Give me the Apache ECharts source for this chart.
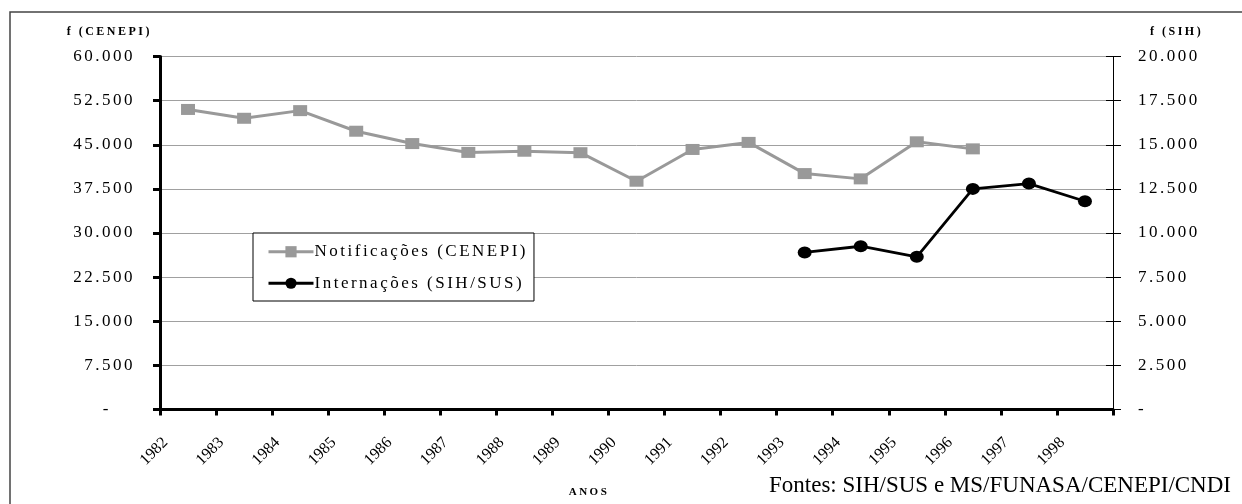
<!DOCTYPE html>
<html>
<head>
<meta charset="utf-8">
<script src="https://cdn.jsdelivr.net/npm/echarts@6/dist/echarts.min.js"></script>
<style>
html,body{margin:0;padding:0;background:#fff;}
#c{width:1242px;height:504px;}
</style>
</head>
<body>
<div id="c"></div>
<script>
// ---- data ----
const years = ['1982','1983','1984','1985','1986','1987','1988','1989','1990','1991','1992','1993','1994','1995','1996','1997','1998'];
const notificacoes = [51000, 49500, 50800, 47300, 45200, 43700, 43900, 43650, 38800, 44200, 45400, 40100, 39200, 45500, 44300, null, null];
const internacoes = [null, null, null, null, null, null, null, null, null, null, null, 8900, 9250, 8650, 12500, 12800, 11800];
const leftTicks = [0, 7500, 15000, 22500, 30000, 37500, 45000, 52500, 60000];
const rightTicks = [0, 2500, 5000, 7500, 10000, 12500, 15000, 17500, 20000];
const nameNot = 'Notificações (CENEPI)';
const nameInt = 'Internações (SIH/SUS)';
const source = 'Fontes: SIH/SUS e MS/FUNASA/CENEPI/CNDI';

// letter-spaced serif text (as in the original figure)
const SPACED = 'Liberation Serif, Tinos';
const PLAIN = 'Liberation Serif';
(function(){
  const P = CanvasRenderingContext2D.prototype;
  if (!('letterSpacing' in P)) return;
  const setSp = function(ctx){ ctx.letterSpacing = /Tinos/.test(ctx.font) ? '2.5px' : '0px'; };
  const ft = P.fillText, st = P.strokeText, mt = P.measureText;
  P.fillText = function(){ setSp(this); return ft.apply(this, arguments); };
  P.strokeText = function(){ setSp(this); return st.apply(this, arguments); };
  P.measureText = function(){ setSp(this); return mt.apply(this, arguments); };
})();

function fmt3(v){
  if (v === 0) return '-';
  const s = String(v);
  return s.slice(0, s.length-3) + '.' + s.slice(s.length-3);
}

const chart = echarts.init(document.getElementById('c'), null, {renderer:'canvas'});
chart.setOption({
  animation:false,
  backgroundColor:'#fff',
  grid:{left:160, right:129, top:56.5, bottom:92.5},
  legend:{
    left:253, top:233, orient:'vertical',
    backgroundColor:'#fff', borderColor:'#000', borderWidth:1,
    padding:[9,6,8,14], itemGap:12, itemWidth:45, itemHeight:14,
    lineStyle:{width:3},
    textStyle:{fontFamily:SPACED, fontSize:17, color:'#000', padding:[0,0,0,-4]},
    data:[nameNot, nameInt]
  },
  xAxis:{
    type:'category', data:years, boundaryGap:true,
    axisLine:{lineStyle:{color:'#000', width:3}},
    axisTick:{show:true, length:6, lineStyle:{color:'#000', width:3}},
    axisLabel:{rotate:45, fontFamily:PLAIN, fontSize:16, color:'#000', margin:8, interval:0, padding:[0,32,0,0]},
    name:'ANOS', nameLocation:'middle', nameGap:76,
    nameTextStyle:{fontFamily:SPACED, fontSize:11, fontWeight:'bold', color:'#000', padding:[0,95,0,0]}
  },
  yAxis:[
    {
      type:'value', min:0, max:60000, interval:7500, position:'left',
      axisLine:{show:true, lineStyle:{color:'#000', width:3}},
      axisTick:{show:true, length:7, lineStyle:{color:'#000', width:3}},
      splitLine:{show:true, lineStyle:{color:'#a0a0a0', width:1}},
      axisLabel:{
        fontFamily:SPACED, fontSize:17, color:'#000', margin:25,
        formatter:function(v){ return v===0 ? '{d|-}' : fmt3(v); },
        rich:{d:{fontFamily:SPACED, fontSize:17, color:'#000', padding:[0,24,0,0]}}
      },
      name:'f (CENEPI)', nameLocation:'end', nameGap:17,
      nameTextStyle:{fontFamily:SPACED, fontSize:12, fontWeight:'bold', color:'#000', align:'right', padding:[0,8,0,0]}
    },
    {
      type:'value', min:0, max:20000, interval:2500, position:'right',
      axisLine:{show:true, lineStyle:{color:'#000', width:1}},
      axisTick:{show:true, length:8, lineStyle:{color:'#000', width:1}},
      splitLine:{show:false},
      axisLabel:{
        fontFamily:SPACED, fontSize:17, color:'#000', margin:25,
        formatter:function(v){ return fmt3(v); }
      },
      name:'f (SIH)', nameLocation:'end', nameGap:17,
      nameTextStyle:{fontFamily:SPACED, fontSize:12, fontWeight:'bold', color:'#000', align:'left', padding:[0,0,0,37]}
    },
    {
      type:'value', min:0, max:20000, interval:2500, position:'right',
      axisLine:{show:false},
      axisTick:{show:true, inside:true, length:7, lineStyle:{color:'#000', width:1}},
      splitLine:{show:false},
      axisLabel:{show:false}
    }
  ],
  series:[
    {
      name:nameNot, type:'line', yAxisIndex:0, data:notificacoes,
      symbol:'rect', symbolSize:[14,11], connectNulls:false,
      lineStyle:{color:'#999999', width:3},
      itemStyle:{color:'#999999'}, z:3
    },
    {
      name:nameInt, type:'line', yAxisIndex:1, data:internacoes,
      symbol:'circle', symbolSize:[14,12],
      lineStyle:{color:'#000', width:2.8},
      itemStyle:{color:'#000'}, z:4
    }
  ],
  graphic:[
    {type:'rect', silent:true, z:-1, shape:{x:10, y:12, width:1300, height:600},
     style:{fill:'none', stroke:'#444', lineWidth:1.5}},
    {type:'text', right:11, top:474, silent:true,
     style:{text:source, font:'23px "Liberation Serif"', fill:'#000'}}
  ]
});
</script>
</body>
</html>
